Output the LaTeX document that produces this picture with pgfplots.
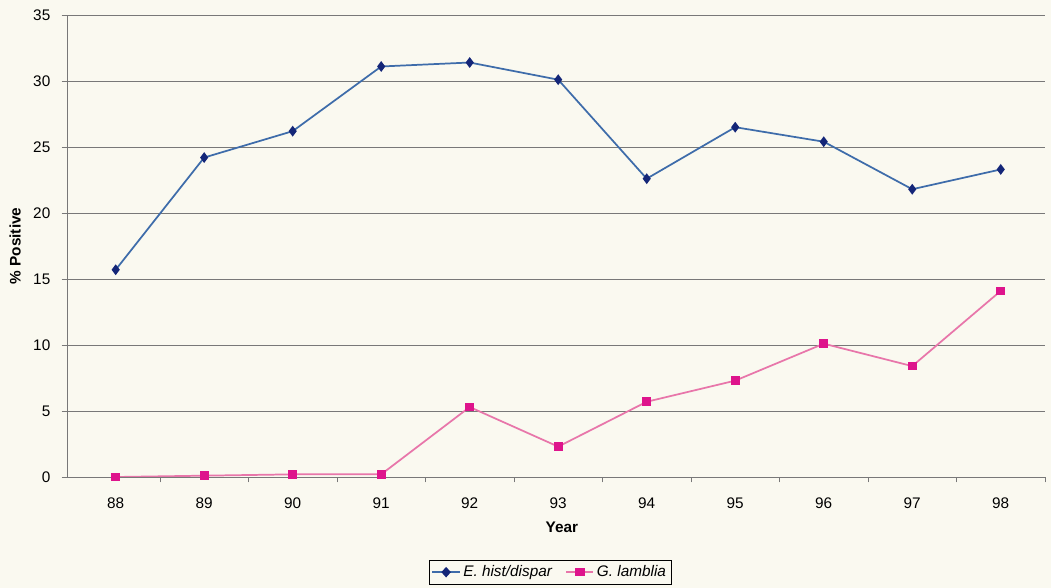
\documentclass[border=0pt]{standalone}
\usepackage{pgfplots}
\pgfplotsset{compat=1.18}
\usepackage{fontspec}
\setmainfont{Liberation Sans}
\definecolor{paper}{RGB}{250,249,240}
\definecolor{bline}{RGB}{62,108,170}
\definecolor{bmark}{RGB}{20,38,120}
\definecolor{pline}{RGB}{232,118,170}
\definecolor{pmark}{RGB}{222,20,140}
\definecolor{gridc}{RGB}{120,120,120}
\pgfplotstableread{
x ehist glam
0 15.7 0.0
1 24.2 0.1
2 26.2 0.2
3 31.1 0.2
4 31.4 5.3
5 30.1 2.3
6 22.6 5.7
7 26.5 7.3
8 25.4 10.1
9 21.8 8.4
10 23.3 14.1
}\datatable
\begin{document}
\begin{tikzpicture}
\fill[paper] (-50.25pt,-83.25pt) rectangle (738pt,357.75pt);
\begin{axis}[
  at={(0,0)}, anchor=south west,
  scale only axis, width=733.5pt, height=346.5pt,
  xmin=-0.55, xmax=10.5, ymin=0, ymax=35,
  axis lines*=left, axis line style={-, gridc, line width=0.6pt},
  ytick={0,5,...,35},
  ymajorgrids, grid style={gridc, line width=0.6pt},
  xtick={0,...,10},
  xticklabels={88,89,90,91,92,93,94,95,96,97,98},
  minor xtick={0.5,1.5,...,10.5},
  tick align=outside,
  major tick length=4pt, minor tick length=4pt,
  x tick style={draw=none},
  minor x tick style={draw=gridc, line width=0.6pt},
  y tick style={draw=gridc, line width=0.6pt},
  tick label style={font=\fontsize{11.5}{13}\selectfont, /pgf/number format/assume math mode=true},
  yticklabel style={xshift=-5pt},
  xticklabel style={yshift=-8pt},
  xlabel={\textbf{Year}},
  ylabel={\textbf{\% Positive}},
  label style={font=\fontsize{11.5}{13}\selectfont},
  xlabel style={at={(axis description cs:0.506,-0.108)}, anchor=center},
  ylabel style={at={(axis description cs:-0.053,0.5)}, anchor=center, rotate=0},
  legend style={at={(axis description cs:0.494,-0.206)}, anchor=center,
    legend columns=2, draw=black, line width=0.6pt, fill=paper,
    font=\fontsize{11.5}{13}\selectfont\itshape,
    /tikz/every even column/.append style={column sep=8pt},
    inner sep=2pt},
  legend image post style={xscale=1.2},
  legend cell align=left,
]
\addplot[bline, line width=1.3pt, mark=diamond*, mark size=3pt,
  mark options={fill=bmark, draw=bmark}] table[x=x, y=ehist] {\datatable};
\addlegendentry{E. hist/dispar}
\addplot[pline, line width=1.3pt, mark=square*, mark size=2.6pt,
  mark options={fill=pmark, draw=pmark}] table[x=x, y=glam] {\datatable};
\addlegendentry{G. lamblia}
\end{axis}
\pgfresetboundingbox
\path[use as bounding box] (-50.25pt,-83.25pt) rectangle (738pt,357.75pt);
\end{tikzpicture}
\end{document}
